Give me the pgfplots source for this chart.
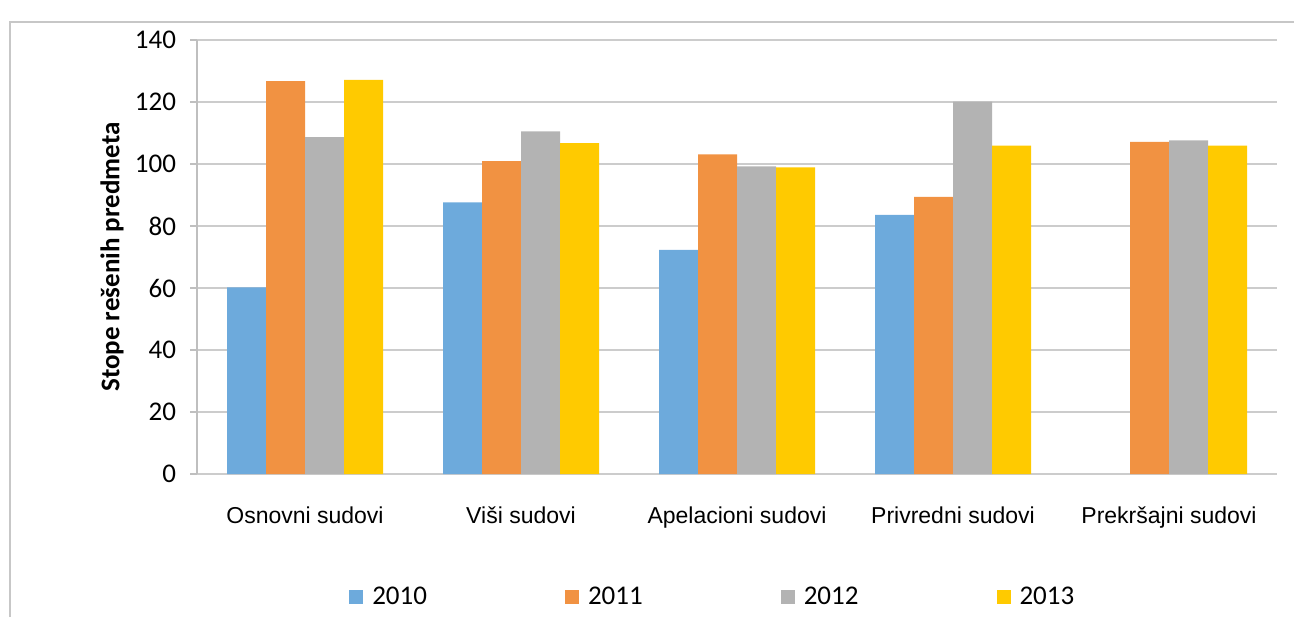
\documentclass[border=0pt]{standalone}
\usepackage{pgfplots}
\pgfplotsset{compat=1.18}
\usepackage{fontspec}
\setmainfont{Carlito}
\newfontfamily\arialfont{Liberation Sans}

\definecolor{c2010}{HTML}{6DAADC}
\definecolor{c2011}{HTML}{F19242}
\definecolor{c2012}{HTML}{B3B3B3}
\definecolor{c2013}{HTML}{FFCA00}

\begin{document}
\begin{tikzpicture}[x=0.5pt,y=0.5pt]
\useasboundingbox (0,0) rectangle (1294,617);
\draw[black!22, line width=1pt] (10,0) -- (10,595) -- (1294,595);
\begin{axis}[
    at={(98.5pt,71.5pt)}, anchor=south west,
    scale only axis, width=540pt, height=217pt,
    ybar=0pt, bar width=19.5pt,
    xmin=-0.5, xmax=4.5,
    ymin=0, ymax=140,
    ytick={0,20,...,140},
    xtick={0,1,2,3,4},
    xticklabels={Osnovni sudovi, Viši sudovi, Apelacioni sudovi, Privredni sudovi, Prekršajni sudovi},
    axis lines*=left,
    axis line style={draw=black!25, line width=0.8pt, -},
    x axis line style={draw=none},
    ymajorgrids=true,
    grid style={black!20, line width=1.2pt},
    tick align=outside,
    major tick length=3.5pt,
    ytick style={draw=black!25, line width=0.8pt},
    xtick style={draw=none},
    /pgf/number format/assume math mode=true,
    yticklabel style={font=\fontsize{13.5}{14}\selectfont, xshift=-3.5pt},
    xticklabel style={font=\arialfont\fontsize{11.5}{12}\selectfont, yshift=-9.5pt},
    ylabel={Stope rešenih predmeta},
    ylabel style={font=\bfseries\fontsize{13.5}{14}\selectfont, at={(axis description cs:-0.0787,0.5)}, anchor=center},
    legend style={at={(axis description cs:0.4785,-0.283)}, anchor=center, draw=none,
        legend columns=4, font=\fontsize{13.5}{14}\selectfont,
        /tikz/every odd column/.append style={column sep=2.5pt},
        /tikz/every even column/.append style={column sep=67pt}},
    legend image code/.code={\fill[#1] (0pt,-3.5pt) rectangle (7pt,3.5pt);},
]
\addplot[fill=c2010, draw=none] coordinates {(0,60.2) (1,87.6) (2,72.3) (3,83.6)};
\addplot[fill=c2011, draw=none] coordinates {(0,126.7) (1,100.9) (2,103.1) (3,89.4) (4,107.1)};
\addplot[fill=c2012, draw=none] coordinates {(0,108.7) (1,110.5) (2,99.2) (3,120.1) (4,107.6)};
\addplot[fill=c2013, draw=none] coordinates {(0,127.1) (1,106.7) (2,98.9) (3,105.9) (4,105.9)};
\legend{2010,2011,2012,2013}
\end{axis}
\end{tikzpicture}
\end{document}
